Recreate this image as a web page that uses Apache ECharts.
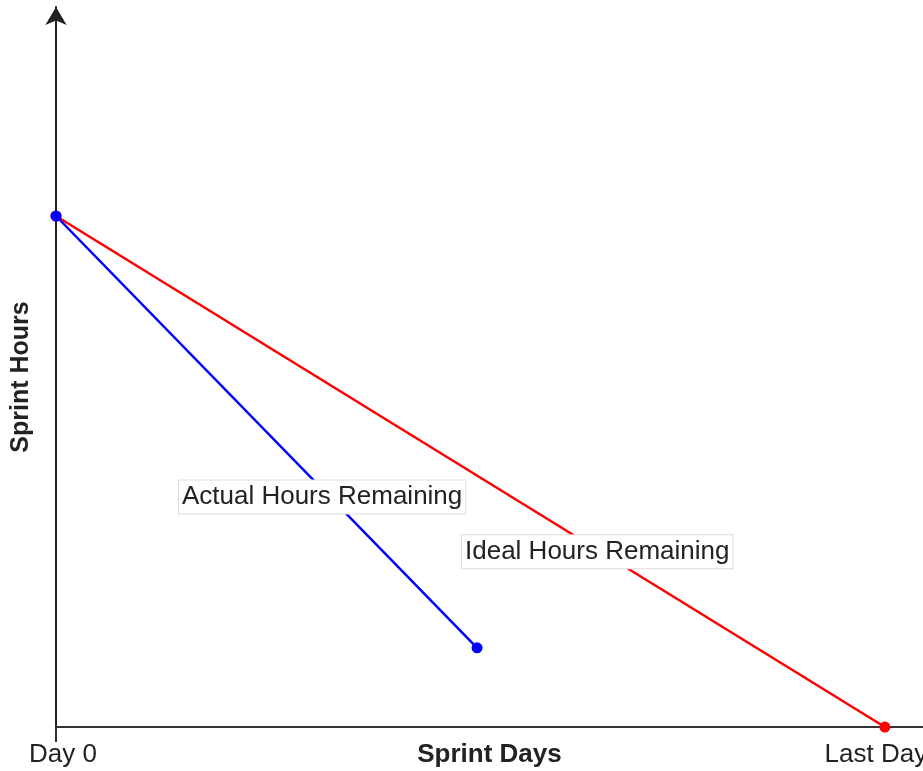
<!DOCTYPE html>
<html>
<head>
<meta charset="utf-8">
<style>
  html, body { margin: 0; padding: 0; background: #ffffff; }
  #chart { width: 923px; height: 771px; }
</style>
<script src="https://cdn.jsdelivr.net/npm/echarts@6/dist/echarts.min.js"></script>
</head>
<body>
<div id="chart"></div>
<script>
// ---- data ----
var dayTicks = [0, 10];
var dayTickLabels = ['Day 0', 'Last Day'];
var idealDays = [0, 10];
var idealHours = [100, 0];
var actualDays = [0, 5.08];
var actualHours = [100, 15.5];
var seriesNames = ['Ideal Hours Remaining', 'Actual Hours Remaining'];
var xName = 'Sprint Days';
var yName = 'Sprint Hours';

var FONT = '"Liberation Sans", Arial, Helvetica, sans-serif';

function pairs(xs, ys) {
  return xs.map(function (x, i) { return [x, ys[i]]; });
}
// label anchor at a fraction along a two-point line
function along(xs, ys, t) {
  return [xs[0] + (xs[1] - xs[0]) * t, ys[0] + (ys[1] - ys[0]) * t];
}

var boxLabel = {
  show: true,
  position: 'inside',
  formatter: '{b}',
  color: '#222222',
  fontFamily: FONT,
  fontSize: 26,
  lineHeight: 26,
  backgroundColor: '#ffffff',
  borderColor: '#dddddd',
  borderWidth: 1,
  padding: [4, 3, 3, 3]
};

var chart = echarts.init(document.getElementById('chart'), null, { renderer: 'canvas' });
chart.setOption({
  animation: false,
  backgroundColor: '#ffffff',
  grid: { left: 56, right: 0, top: 7, bottom: 44, containLabel: false, outerBoundsMode: 'none' },
  xAxis: {
    type: 'value',
    min: 0,
    max: 10.46,
    name: xName,
    nameLocation: 'middle',
    nameGap: 15,
    nameMoveOverlap: false,
    nameTextStyle: { fontFamily: FONT, fontSize: 26, fontWeight: 'bold', color: '#222222', verticalAlign: 'top' },
    axisLine: { show: true, lineStyle: { color: '#333333', width: 2 } },
    axisTick: { show: true, customValues: [0], length: 15, lineStyle: { color: '#333333', width: 2 } },
    axisLabel: {
      show: true,
      customValues: dayTicks,
      margin: 15,
      hideOverlap: false,
      fontFamily: FONT,
      fontSize: 26,
      color: '#222222',
      formatter: function (v) {
        var i = dayTicks.indexOf(v);
        if (i === 0) return '{first|' + dayTickLabels[i] + '}';
        if (i === dayTicks.length - 1) return '{last|' + dayTickLabels[i] + '}';
        return i >= 0 ? dayTickLabels[i] : '';
      },
      rich: {
        first: { fontFamily: FONT, fontSize: 26, color: '#222222', padding: [0, 0, 0, 14] },
        last: { fontFamily: FONT, fontSize: 26, color: '#222222', padding: [0, 18, 0, 0] }
      }
    },
    splitLine: { show: false }
  },
  yAxis: {
    type: 'value',
    min: 0,
    max: 140.9,
    name: yName,
    nameLocation: 'middle',
    nameGap: 22,
    nameRotate: 90,
    nameMoveOverlap: false,
    nameTextStyle: { fontFamily: FONT, fontSize: 25, fontWeight: 'bold', color: '#222222', padding: [0, 20, 0, 0] },
    axisLine: {
      show: true,
      symbol: ['none', 'arrow'],
      symbolSize: [16, 18],
      lineStyle: { color: '#222222', width: 2 }
    },
    axisTick: { show: false },
    axisLabel: { show: false },
    splitLine: { show: false }
  },
  series: [
    {
      name: seriesNames[0],
      type: 'line',
      data: pairs(idealDays, idealHours),
      color: '#ff0000',
      lineStyle: { color: '#ff0000', width: 2.5 },
      itemStyle: { color: '#ff0000' },
      symbol: 'circle',
      symbolSize: 11,
      showAllSymbol: true,
      z: 2,
      markPoint: {
        symbol: 'rect',
        symbolSize: 0,
        label: Object.assign({}, boxLabel, { offset: [0, 2] }),
        data: [{ name: seriesNames[0], coord: along(idealDays, idealHours, 0.653) }]
      }
    },
    {
      name: seriesNames[1],
      type: 'line',
      data: pairs(actualDays, actualHours),
      color: '#0000ff',
      lineStyle: { color: '#0000ff', width: 2.5 },
      itemStyle: { color: '#0000ff' },
      symbol: 'circle',
      symbolSize: 11,
      showAllSymbol: true,
      z: 3,
      markPoint: {
        symbol: 'rect',
        symbolSize: 0,
        label: Object.assign({}, boxLabel, { offset: [0, 8] }),
        data: [{ name: seriesNames[1], coord: along(actualDays, actualHours, 0.632) }]
      }
    }
  ]
});
</script>
</body>
</html>
